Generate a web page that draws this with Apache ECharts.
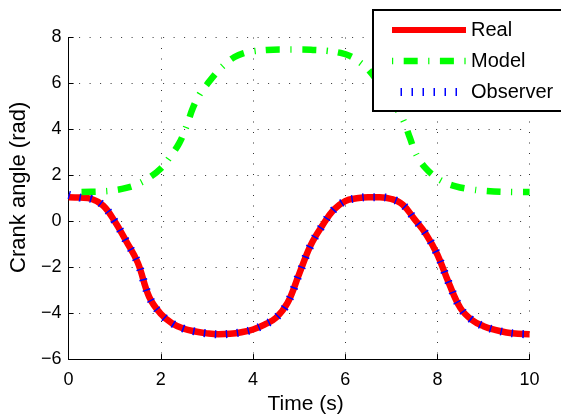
<!DOCTYPE html>
<html><head><meta charset="utf-8">
<script src="https://cdn.jsdelivr.net/npm/echarts@6/dist/echarts.min.js"></script>
<style>html,body{margin:0;padding:0;background:#fff}#c{width:561px;height:420px}</style>
</head><body><div id="c"></div>
<script>
const timeReal = [0,0.25,0.5,0.75,1.0,1.25,1.5,1.75,2.0,2.25,2.5,2.75,3.0,3.25,3.5,3.75,4.0,4.25,4.5,4.75,5.0,5.25,5.5,5.75,6.0,6.25,6.5,6.75,7.0,7.25,7.5,7.75,8.0,8.25,8.5,8.75,9.0,9.25,9.5,9.75,10];
const realValues = [1.05,1.03,0.97,0.68,0.0,-0.87,-1.8,-3.3,-4.03,-4.45,-4.68,-4.8,-4.88,-4.92,-4.9,-4.83,-4.71,-4.5,-4.2,-3.55,-2.3,-1.05,-0.2,0.5,0.88,1.0,1.05,1.05,0.97,0.72,0.1,-0.55,-1.45,-2.7,-3.78,-4.3,-4.57,-4.73,-4.84,-4.9,-4.92];
const observerValues = [1.15,1.03,0.97,0.68,0.0,-0.87,-1.8,-3.3,-4.03,-4.45,-4.68,-4.8,-4.88,-4.92,-4.9,-4.83,-4.71,-4.5,-4.2,-3.55,-2.3,-1.05,-0.2,0.5,0.88,1.0,1.05,1.05,0.97,0.72,0.1,-0.55,-1.45,-2.7,-3.78,-4.3,-4.57,-4.73,-4.84,-4.9,-4.92];
const timeModel = [0.28,0.5,0.75,1.0,1.25,1.5,1.75,2.0,2.2,2.4,2.55,2.7,2.85,3.0,3.2,3.4,3.6,3.8,4.0,4.3,4.6,5.0,5.3,5.6,5.9,6.1,6.3,6.5,6.7,6.9,7.1,7.25,7.4,7.5,7.6,7.75,7.9,8.1,8.4,8.7,9.0,9.5,10];
const modelValues = [1.27,1.28,1.3,1.35,1.45,1.62,1.9,2.3,2.8,3.4,4.1,4.95,5.55,5.95,6.45,6.85,7.15,7.32,7.4,7.46,7.48,7.48,7.46,7.42,7.33,7.2,6.95,6.6,6.1,5.55,4.95,4.45,3.65,3.1,2.7,2.3,2.02,1.75,1.52,1.4,1.33,1.28,1.27];
const seriesNames = ['Real','Model','Observer'];
const xTickLabels = {0:'0',2:'2',4:'4',6:'6',8:'8',10:'10'};
const yTickLabels = {'-6':'\u22126','-4':'\u22124','-2':'\u22122',0:'0',2:'2',4:'4',6:'6',8:'8'};

const pairs = (xs, ys) => xs.map((x, i) => [x, ys[i]]);
const FONT = '"Liberation Sans", Arial, Helvetica, sans-serif';
const chart = echarts.init(document.getElementById('c'), null, {renderer: 'canvas'});
const gridDots = {type: [1, 9.5], color: '#000', width: 1, opacity: 0.8};
const hiddenSymbol = {opacity: 0};
chart.setOption({
  animation: false,
  backgroundColor: '#fff',
  grid: {left: 68.6, right: 31.4, top: 37.5, bottom: 58.4, containLabel: false},
  xAxis: {
    type: 'value', min: 0, max: 10, interval: 2,
    name: 'Time (s)', nameLocation: 'middle', nameGap: 34,
    nameTextStyle: {fontFamily: FONT, fontSize: 21, color: '#000', padding: [0,0,0,13]},
    axisLine: {show: true, onZero: false, lineStyle: {color: '#000', width: 1}},
    axisTick: {show: true, inside: true, length: 5, lineStyle: {color: '#000'}},
    axisLabel: {fontFamily: FONT, fontSize: 18, color: '#000', margin: 12,
      formatter: v => xTickLabels[v] !== undefined ? xTickLabels[v] : ''},
    splitLine: {show: true, lineStyle: gridDots}
  },
  yAxis: {
    type: 'value', min: -6, max: 8, interval: 2,
    name: 'Crank angle (rad)', nameLocation: 'middle', nameGap: 33, nameRotate: 90,
    nameTextStyle: {fontFamily: FONT, fontSize: 22, color: '#000', padding: [0,0,0,22]},
    axisLine: {show: true, onZero: false, lineStyle: {color: '#000', width: 1}},
    axisTick: {show: true, inside: true, length: 5, lineStyle: {color: '#000'}},
    axisLabel: {fontFamily: FONT, fontSize: 18, color: '#000', margin: 7,
      formatter: v => yTickLabels[v] !== undefined ? yTickLabels[v] : ''},
    splitLine: {show: true, lineStyle: gridDots}
  },
  legend: {
    orient: 'vertical', left: 373, top: 10,
    padding: [10, 16, 9, 15],
    itemWidth: 74, itemHeight: 20, itemGap: 11,
    backgroundColor: '#fff', borderColor: '#000', borderWidth: 2, borderRadius: 0,
    textStyle: {fontFamily: FONT, fontSize: 20, color: '#000'},
    data: [
      {name: seriesNames[0], itemStyle: hiddenSymbol, lineStyle: {width: 6}},
      {name: seriesNames[1], itemStyle: hiddenSymbol, lineStyle: {width: 6.5, type: [14, 10.5, 1.2, 10.5], dashOffset: 24.5, cap: 'butt'}},
      {name: seriesNames[2], itemStyle: hiddenSymbol, lineStyle: {width: 8, type: [1.5, 9.5], cap: 'butt'}}
    ]
  },
  series: [
    {name: seriesNames[0], type: 'line', data: pairs(timeReal, realValues), symbol: 'none', smooth: 0.4,
     lineStyle: {color: '#ff0000', width: 6.5}, itemStyle: {color: '#ff0000'}},
    {name: seriesNames[1], type: 'line', data: pairs(timeModel, modelValues), symbol: 'none', smooth: 0.4,
     lineStyle: {color: '#00ff00', width: 6.5, type: [14, 10.5, 1.2, 10.5], cap: 'butt'}, itemStyle: {color: '#00ff00'}},
    {name: seriesNames[2], type: 'line', data: pairs(timeReal, observerValues), symbol: 'none', smooth: 0.4,
     lineStyle: {color: '#0000ff', width: 8, type: [1.5, 9.5], cap: 'butt'}, itemStyle: {color: '#0000ff'}}
  ]
});
</script></body></html>
